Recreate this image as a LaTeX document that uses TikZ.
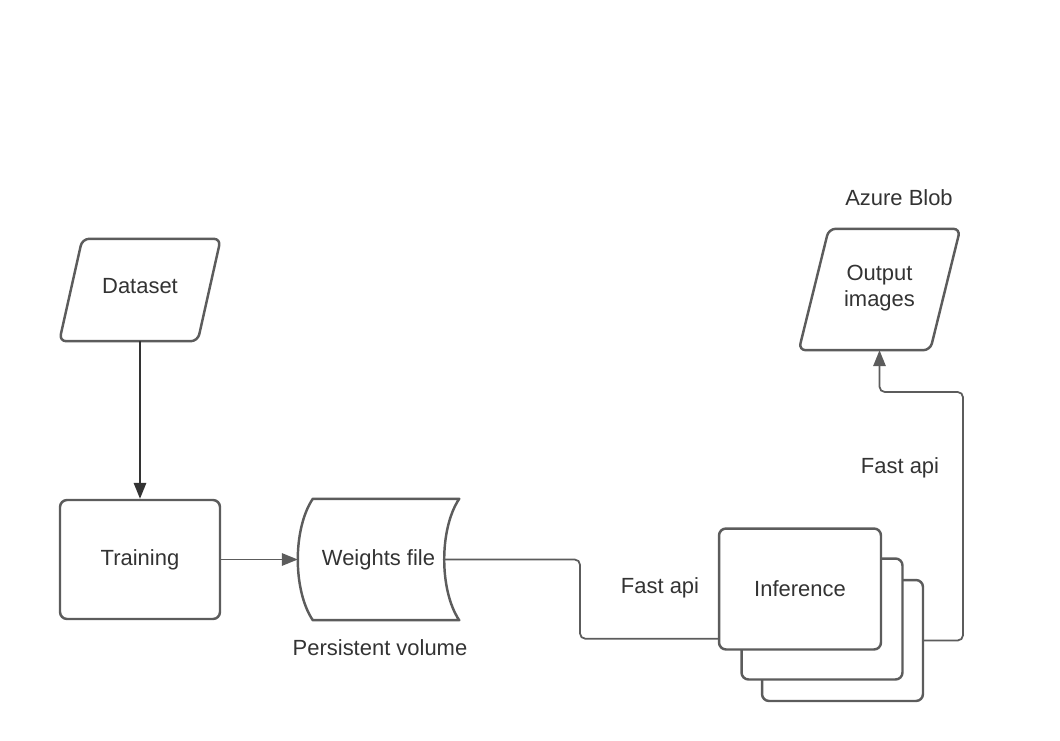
\documentclass[tikz,border=0pt]{standalone}
\usepackage{fontspec}
\setmainfont{Liberation Sans}
\usetikzlibrary{calc,arrows.meta}
\definecolor{edge}{HTML}{5C5C5C}
\definecolor{ink}{HTML}{333333}
\tikzset{
	txt/.style={text=ink,font=\fontsize{12.5}{15}\selectfont},
	box/.style={txt,draw=edge,line width=1.4pt,rounded corners=4pt,fill=white,
		minimum width=3.2cm,minimum height=2.38cm,inner sep=0pt,align=center},
	hollow/.style={box,draw=none,fill=none},
	outline/.style={draw=edge,line width=1.4pt,rounded corners=4pt,line join=round},
	conn/.style={draw=edge,line width=1pt,rounded corners=3pt}
}
\begin{document}
\begin{tikzpicture}[x=0.02cm,y=-0.02cm,>={Triangle[length=9pt,width=7pt]}]
	\useasboundingbox (0,0) rectangle (1060,740);
	% shapes
	\node[hollow,minimum width=3.18cm,minimum height=2.14cm] (data) at (140,286.5) {Dataset};
	\draw[outline] (data.south west) -- ($(data.south east)+(-23,0)$)
		-- ($(data.north east)+(0,7)$) -- ($(data.north west)+(23,7)$) -- cycle;
	\node[box] (train) at (140,559.5) {Training};
	\node[hollow,minimum width=3.18cm] (wts) at (378.5,559.5) {Weights file};
	\draw[outline,sharp corners] ($(wts.north west)+(15,0)$) -- (wts.north east)
		.. controls ($(wts.north east)+(-20,30)$) and ($(wts.south east)+(-20,-30)$) .. (wts.south east)
		-- ($(wts.south west)+(15,0)$)
		.. controls ($(wts.south west)+(-5,-30)$) and ($(wts.north west)+(-5,30)$) .. cycle;
	\node[box,minimum width=3.22cm,minimum height=2.42cm] (inf3) at (842.5,640.5) {};
	\node[box,minimum width=3.22cm,minimum height=2.42cm] (inf2) at (822,619) {};
	\node[box,minimum width=3.24cm,minimum height=2.42cm] (inf) at (800,589) {Inference};
	\node[hollow,minimum width=3.18cm,minimum height=2.44cm] (out) at (879.5,288) {Output\\images};
	\draw[outline] (out.south west) -- ($(out.south east)+(-30,0)$)
		-- ($(out.north east)+(0,3)$) -- ($(out.north west)+(30,3)$) -- cycle;
	% labels
	\node[txt] (pv) at (380,648) {Persistent volume};
	\node[txt] (api1) at (660,588) {Fast api};
	\node[txt] (api2) at (900,468) {Fast api};
	\node[txt] (blob) at (899,198) {Azure Blob};
	% connectors
	\coordinate (wout) at ($(wts.east)+(-15,0)$);
	\coordinate (in) at ($(inf.south west)+(0,-12)$);
	\draw[conn,draw=ink,->] (data.south) -- (train.north);
	\draw[conn,->] (train.east) -- (wts.west);
	\draw[conn] (wout) -| (580,600) |- (in);
	\draw[conn,->] (inf3.east) -| (963,392) -| (out.south);
\end{tikzpicture}
\end{document}
